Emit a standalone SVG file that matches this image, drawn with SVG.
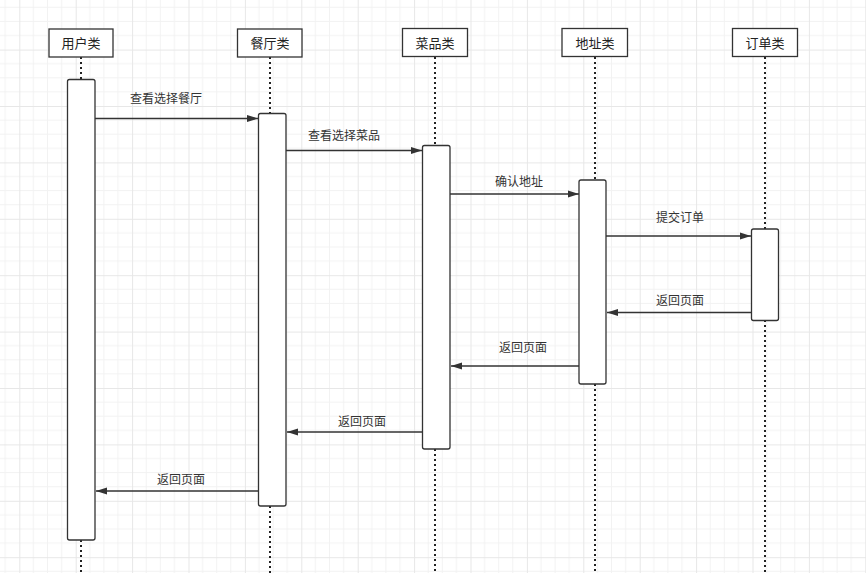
<svg xmlns="http://www.w3.org/2000/svg" width="866" height="573" viewBox="0 0 866 573">
<defs>
<pattern id="grid" patternUnits="userSpaceOnUse" x="19.3" y="49.6" width="56.4" height="56.4">
<path d="M14.1 0V56.4M28.2 0V56.4M42.3 0V56.4M0 14.1H56.4M0 28.2H56.4M0 42.3H56.4" stroke="#f2f2f2" stroke-width="1" fill="none"/>
<path d="M0.5 0V56.4M0 0.5H56.4" stroke="#e7e7e7" stroke-width="1" fill="none"/>
</pattern>
<marker id="arr" markerUnits="userSpaceOnUse" markerWidth="12" markerHeight="8" refX="11" refY="4" orient="auto">
<path d="M0,0.5 L11,4 L0,7.5 z" fill="#333"/>
</marker>
</defs>
<style>
.hdr{fill:#fff;stroke:#333;stroke-width:1.3}
.act{fill:#fff;stroke:#333;stroke-width:1.3}
.life{stroke:#222;stroke-width:2;stroke-dasharray:2 3;fill:none}
.msg{stroke:#333;stroke-width:1.3;fill:none;marker-end:url(#arr)}
.t{font-family:"Noto Sans CJK SC","Noto Sans",sans-serif;font-size:13px;fill:#222;text-anchor:middle}
.lbl{font-family:"Noto Sans CJK SC","Noto Sans",sans-serif;font-size:12px;fill:#333;text-anchor:middle}
</style>
<rect width="866" height="573" fill="#fff"/>
<rect width="866" height="573" fill="url(#grid)"/>

<g id="user">
<path class="life" d="M81 57V79.5M81 540V573"/>
<rect class="hdr" x="49" y="29" width="64" height="28"/>
<text class="t" x="81" y="47.5">用户类</text>
<rect class="act" x="67.5" y="79.5" width="27.5" height="460.5" rx="2"/>
</g>
<g id="restaurant">
<path class="life" d="M270 57V113M270 506V573"/>
<rect class="hdr" x="237.5" y="29" width="64.5" height="28"/>
<text class="t" x="270" y="47.5">餐厅类</text>
<rect class="act" x="258.5" y="113.5" width="27.5" height="392.5" rx="2"/>
</g>
<g id="dish">
<path class="life" d="M435 57V145M435 449V573"/>
<rect class="hdr" x="402.5" y="28.5" width="65" height="28"/>
<text class="t" x="435" y="47.5">菜品类</text>
<rect class="act" x="422.5" y="145.5" width="27.5" height="303.5" rx="2"/>
</g>
<g id="address">
<path class="life" d="M595 57V180M595 384V573"/>
<rect class="hdr" x="562" y="28.5" width="65.5" height="28"/>
<text class="t" x="595" y="47.5">地址类</text>
<rect class="act" x="579" y="180" width="27" height="204" rx="2"/>
</g>
<g id="order">
<path class="life" d="M765 57V229M765 320V573"/>
<rect class="hdr" x="732.5" y="28.5" width="65" height="28"/>
<text class="t" x="765" y="47.5">订单类</text>
<rect class="act" x="751.5" y="229" width="27" height="91.5" rx="2"/>
</g>

<g id="connectors">
<line class="msg" x1="95" y1="118.5" x2="258" y2="118.5"/>
<text class="lbl" x="166" y="102.5">查看选择餐厅</text>
<line class="msg" x1="286" y1="150.5" x2="422" y2="150.5"/>
<text class="lbl" x="344" y="140">查看选择菜品</text>
<line class="msg" x1="450" y1="194" x2="579" y2="194"/>
<text class="lbl" x="519" y="186">确认地址</text>
<line class="msg" x1="606" y1="236" x2="751" y2="236"/>
<text class="lbl" x="680" y="222">提交订单</text>
<line class="msg" x1="751" y1="312.5" x2="607" y2="312.5"/>
<text class="lbl" x="680" y="305">返回页面</text>
<line class="msg" x1="579" y1="366" x2="451" y2="366"/>
<text class="lbl" x="523" y="352">返回页面</text>
<line class="msg" x1="422" y1="432" x2="287" y2="432"/>
<text class="lbl" x="362" y="426">返回页面</text>
<line class="msg" x1="258" y1="491" x2="96" y2="491"/>
<text class="lbl" x="181" y="484">返回页面</text>
</g>
</svg>
